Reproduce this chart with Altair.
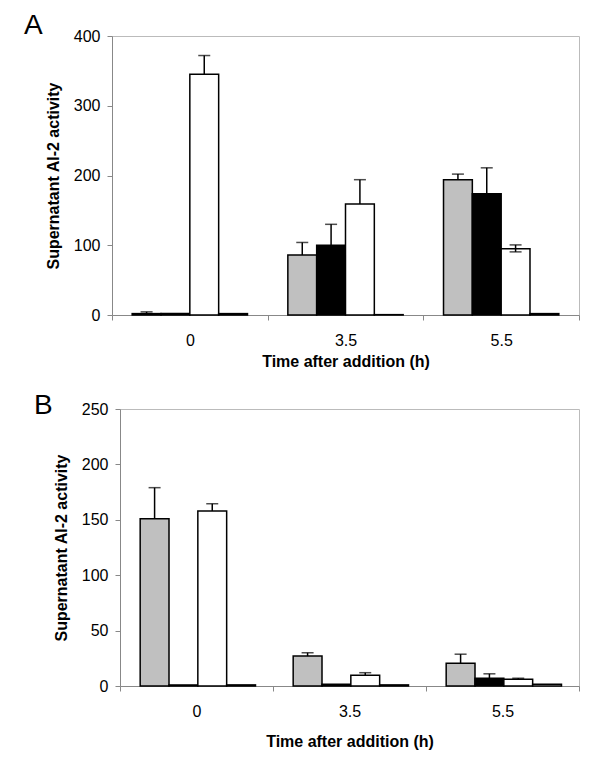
import altair as alt
import pandas as pd

times = ["0", "3.5", "5.5"]
series = ["S1", "S2", "S3", "S4"]
colors = ["#c0c0c0", "#000000", "#ffffff", "#ffffff"]
panel_letters = ["A", "B"]

# Panel A values (mean) and error bar ends
a_vals = {
    "S1": [2, 86, 194],
    "S2": [2, 100, 174],
    "S3": [345, 159, 95],
    "S4": [2, 0.5, 2],
}
a_hi = {
    "S1": [4.5, 104, 202],
    "S2": [2, 130, 211],
    "S3": [372, 194, 100.5],
    "S4": [2, 0.5, 2],
}
a_lo = {
    "S1": [2, 86, 194],
    "S2": [2, 100, 174],
    "S3": [345, 159, 90.5],
    "S4": [2, 0.5, 2],
}

# Panel B values (mean) and error bar ends
b_vals = {
    "S1": [151, 27, 20.5],
    "S2": [1, 1.5, 7],
    "S3": [158, 9.7, 6],
    "S4": [1, 1, 1.5],
}
b_hi = {
    "S1": [179, 30, 28.7],
    "S2": [1, 1.5, 11],
    "S3": [164.5, 12, 7],
    "S4": [1, 1, 1.5],
}
b_lo = {
    "S1": [151, 27, 20.5],
    "S2": [1, 1.5, 7],
    "S3": [158, 9.7, 6],
    "S4": [1, 1, 1.5],
}

FONT = "Liberation Sans"


def build(vals, hi, lo):
    rows = []
    for s in series:
        for i, t in enumerate(times):
            rows.append({"time": t, "series": s, "value": vals[s][i],
                         "hi": hi[s][i], "lo": lo[s][i]})
    return pd.DataFrame(rows)


def panel(df, ymax, yvals, letter, lx, ly, title_pad, width, height):
    base = alt.Chart(df).encode(
        x=alt.X("time:N", sort=times,
                scale=alt.Scale(paddingInner=0, paddingOuter=0),
                axis=alt.Axis(title="Time after addition (h)", labelAngle=0,
                              tickBand="extent", tickSize=5,
                              labelPadding=12, titlePadding=title_pad)),
        xOffset=alt.XOffset("series:N", sort=series,
                            scale=alt.Scale(paddingInner=0, paddingOuter=0.7)),
    )
    yscale = alt.Scale(domain=[0, ymax], nice=False)
    yaxis = alt.Axis(title="Supernatant AI-2 activity", values=yvals,
                     tickSize=5, labelPadding=7, titlePadding=12, grid=False)
    bars = base.mark_bar(stroke="black", strokeWidth=1.5).encode(
        y=alt.Y("value:Q", scale=yscale, axis=yaxis),
        fill=alt.Fill("series:N", sort=series,
                      scale=alt.Scale(domain=series, range=colors),
                      legend=None),
    )
    err = base.transform_filter("datum.hi > datum.lo").mark_rule(
        color="black", strokeWidth=1.5).encode(
        y=alt.Y("lo:Q", scale=yscale), y2="hi:Q")
    cap_hi = base.transform_filter("datum.hi > datum.lo").mark_tick(
        color="black", thickness=1.5, size=12, orient="horizontal").encode(
        y=alt.Y("hi:Q", scale=yscale))
    cap_lo = base.transform_filter("datum.lo < datum.value").mark_tick(
        color="black", thickness=1.5, size=12, orient="horizontal").encode(
        y=alt.Y("lo:Q", scale=yscale))
    label = alt.Chart(pd.DataFrame({"label": [letter]})).mark_text(
        align="left", baseline="alphabetic", fontSize=28, font=FONT,
        color="black").encode(
        text="label:N", x=alt.value(lx), y=alt.value(ly))
    return alt.layer(bars, err, cap_hi, cap_lo, label).properties(
        width=width, height=height)


def spacer(w):
    return alt.Chart(pd.DataFrame({"v": [0]}),
                     view=alt.ViewBackground(stroke=None)).mark_point(
        opacity=0, size=1).properties(width=w, height=1)


dfa = build(a_vals, a_hi, a_lo)
dfb = build(b_vals, b_hi, b_lo)

pa = panel(dfa, 400, [0, 100, 200, 300, 400], panel_letters[0],
           -88, -2, 5, 467, 279)
pb = panel(dfb, 250, [0, 50, 100, 150, 200, 250], panel_letters[1],
           -86, 5, 14, 459, 277)

row_a = alt.hconcat(spacer(1), pa, spacing=0)
row_b = alt.hconcat(spacer(11), pb, spacing=0)

chart = alt.vconcat(row_a, row_b, spacing=21).properties(
    padding={"left": 14, "top": 3, "right": 5, "bottom": 5}
).configure_axis(
    labelFont=FONT, titleFont=FONT, labelFontSize=16, titleFontSize=16,
    titleFontWeight="bold", labelColor="black", titleColor="black",
    domainColor="#888888", tickColor="#888888", domainWidth=1, grid=False,
).configure_view(stroke="#bbbbbb")

chart.save("out.html", embed_options={"renderer": "svg", "actions": False})
